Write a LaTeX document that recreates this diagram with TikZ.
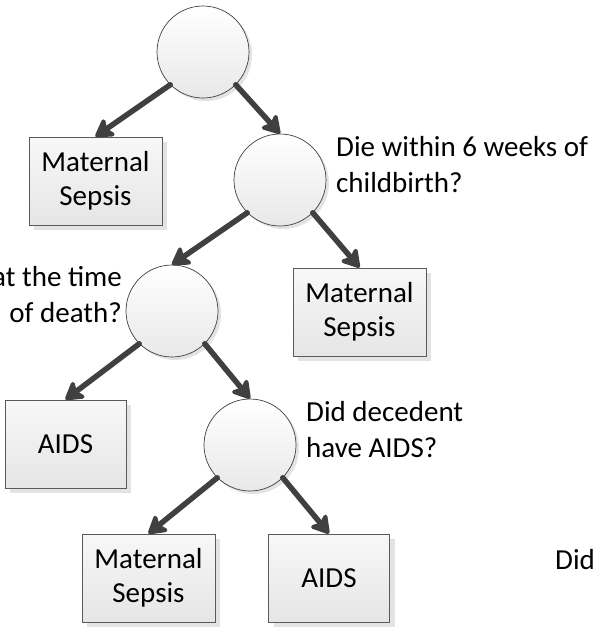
\documentclass[tikz,border=0pt]{standalone}
\usepackage{fontspec}
\setmainfont{Carlito}
\usetikzlibrary{arrows.meta,shadows}
\definecolor{arrowgray}{HTML}{404040}
\definecolor{edgegray}{HTML}{5A5A5A}
\definecolor{shadowgray}{HTML}{E3E3E3}
\tikzset{
  decision/.style={circle, minimum size=92pt, inner sep=0pt, draw=arrowgray, line width=0.7pt,
    top color=white, bottom color=black!9,
    drop shadow={shadow xshift=3pt, shadow yshift=-3pt, fill=shadowgray, opacity=1}},
  leafbox/.style={rectangle, minimum width=133pt, minimum height=88pt, inner sep=0pt, draw=edgegray, line width=0.9pt,
    top color=black!3, bottom color=black!10, align=center,
    font=\fontsize{29}{34}\selectfont,
    drop shadow={shadow xshift=5pt, shadow yshift=-5pt, fill=shadowgray, opacity=1}},
  narrowbox/.style={leafbox, minimum width=121pt},
  question/.style={inner sep=0pt, font=\fontsize{29}{36}\selectfont},
  branch/.style={draw=arrowgray, line width=5.5pt, line cap=round,
    -{Stealth[length=21pt, width=25pt, inset=5pt, round]}, fill=arrowgray}
}
\begin{document}
\begin{tikzpicture}[x=1pt, y=-1pt]
\useasboundingbox (0,0) rectangle (595,627);
% decision circles
\node[decision] (c1) at (203,52) {};
\node[decision] (c2) at (280,180) {};
\node[decision] (c3) at (172,311) {};
\node[decision] (c4) at (250,445) {};
% leaf boxes
\node[leafbox] (b1) at (95.5,181) {Maternal\\Sepsis};
\node[leafbox] (b2) at (359.5,312) {Maternal\\Sepsis};
\node[narrowbox] (b3) at (65.5,444) {AIDS};
\node[leafbox] (b4) at (148.5,578) {Maternal\\Sepsis};
\node[narrowbox] (b5) at (329,578) {AIDS};
% question texts (base anchor = baseline of the last line)
\node[question, anchor=base west, align=left] (q2) at (336,192) {Die within 6 weeks of\\childbirth?};
\node[question, anchor=base east, align=right] (q3) at (122,322) {at the time\\of death?};
\node[question, anchor=base west, align=left] (q4) at (306,457) {Did decedent\\have AIDS?};
\node[question, anchor=base west] (q5) at (555,569) {Did};
% connectors
\draw[branch] (c1.south west) -- (b1.north);
\draw[branch] (c1.south east) -- (c2.north);
\draw[branch] (c2.south west) -- (c3.north);
\draw[branch] (c2.south east) -- (b2.north);
\draw[branch] (c3.south west) -- (b3.north);
\draw[branch] (c3.south east) -- (c4.north);
\draw[branch] (c4.south west) -- (b4.north);
\draw[branch] (c4.south east) -- (b5.north);
\end{tikzpicture}
\end{document}
